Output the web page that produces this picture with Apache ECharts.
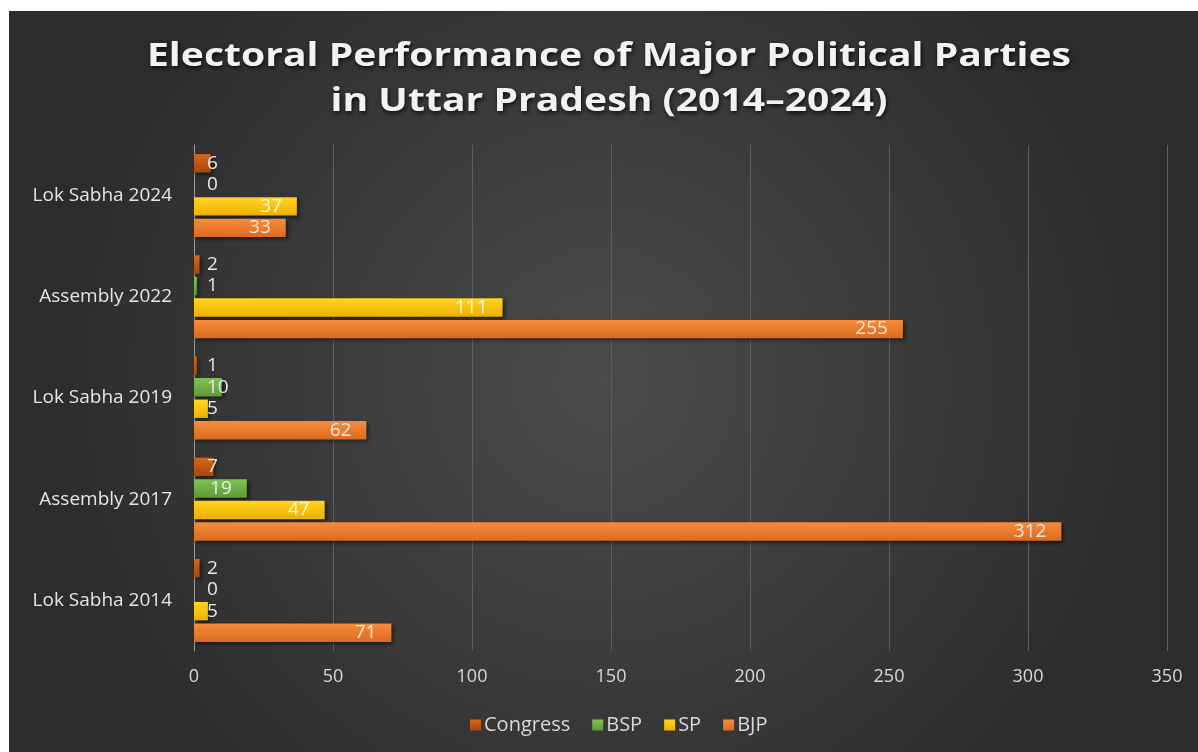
<!DOCTYPE html>
<html>
<head>
<meta charset="utf-8">
<script src="https://cdn.jsdelivr.net/npm/echarts@6/dist/echarts.min.js"></script>
<style>
  html, body { margin: 0; padding: 0; background: #ffffff; }
  #chart { position: absolute; left: 9px; top: 11px; width: 1189px; height: 741px; }
</style>
</head>
<body>
<div id="chart"></div>
<script>
// data
const categories = ['Lok Sabha 2014', 'Assembly 2017', 'Lok Sabha 2019', 'Assembly 2022', 'Lok Sabha 2024'];
const congress = [2, 7, 1, 2, 6];
const bsp = [0, 19, 10, 1, 0];
const sp = [5, 47, 5, 111, 37];
const bjp = [71, 312, 62, 255, 33];
const xTicks = [0, 50, 100, 150, 200, 250, 300, 350];
const titleText = 'Electoral Performance of Major Political Parties\nin Uttar Pradesh (2014\u20132024)';

const font = 'Open Sans';

function grad(top, bottom) {
  return new echarts.graphic.LinearGradient(0, 0, 0, 1, [
    { offset: 0, color: top },
    { offset: 1, color: bottom }
  ]);
}

// small bars: number sits just past the axis; big ones: inside the end
function withLabels(vals) {
  return vals.map(v => ({
    value: v,
    label: v >= 15
      ? { position: 'insideRight', color: 'rgba(255,255,255,0.82)', distance: 15 }
      : { position: 'insideLeft', color: '#e8e8e8', distance: 13 }
  }));
}

function barSeries(name, vals, top, bottom) {
  return {
    name: name,
    type: 'bar',
    data: withLabels(vals),
    barGap: '17%',
    barCategoryGap: '18%',
    itemStyle: {
      color: grad(top, bottom),
      shadowColor: 'rgba(0,0,0,0.55)',
      shadowBlur: 4,
      shadowOffsetX: 2,
      shadowOffsetY: 2
    },
    label: {
      show: true,
      fontFamily: font,
      fontSize: 19
    }
  };
}

const chart = echarts.init(document.getElementById('chart'));
chart.setOption({
  backgroundColor: new echarts.graphic.RadialGradient(0.5, 0.5, 0.75, [
    { offset: 0, color: '#4b4b4b' },
    { offset: 1, color: '#2c2c2c' }
  ]),
  animation: false,
  // title drawn as graphic text so it can be stretched like the original
  graphic: [{
    type: 'text',
    x: 600,
    y: 23,
    scaleX: 1.185,
    style: {
      text: titleText,
      align: 'center',
      verticalAlign: 'top',
      fill: '#f2f2f2',
      font: 'bold 33px "Open Sans"',
      lineHeight: 45,
      textShadowColor: 'rgba(0,0,0,0.8)',
      textShadowBlur: 4,
      textShadowOffsetX: 1,
      textShadowOffsetY: 2
    }
  }],
  legend: {
    data: ['Congress', 'BSP', 'SP', 'BJP'],
    top: 699,
    left: 456,
    itemWidth: 11,
    itemHeight: 11,
    itemGap: 22,
    icon: 'rect',
    textStyle: { color: '#d9d9d9', fontFamily: font, fontSize: 20, padding: [0, 0, 0, -2] }
  },
  grid: { left: 185, right: 31, top: 134, bottom: 101, containLabel: false },
  xAxis: {
    type: 'value',
    min: xTicks[0],
    max: xTicks[xTicks.length - 1],
    interval: 50,
    axisLine: { show: false },
    axisTick: { show: false },
    splitLine: { lineStyle: { color: '#5e5e5e', width: 1 } },
    axisLabel: { color: '#d9d9d9', fontFamily: font, fontSize: 18, margin: 17 }
  },
  yAxis: {
    type: 'category',
    data: categories,
    axisTick: { show: false },
    axisLine: { lineStyle: { color: '#9a9a9a', width: 1 } },
    axisLabel: { color: '#e6e6e6', fontFamily: font, fontSize: 19, margin: 22 }
  },
  series: [
    barSeries('Congress', congress, '#d4661e', '#a8470c'),
    barSeries('BSP', bsp, '#80c454', '#5c9a36'),
    barSeries('SP', sp, '#ffd520', '#eeb000'),
    barSeries('BJP', bjp, '#f58c3e', '#dd6a1e')
  ]
});
</script>
</body>
</html>
